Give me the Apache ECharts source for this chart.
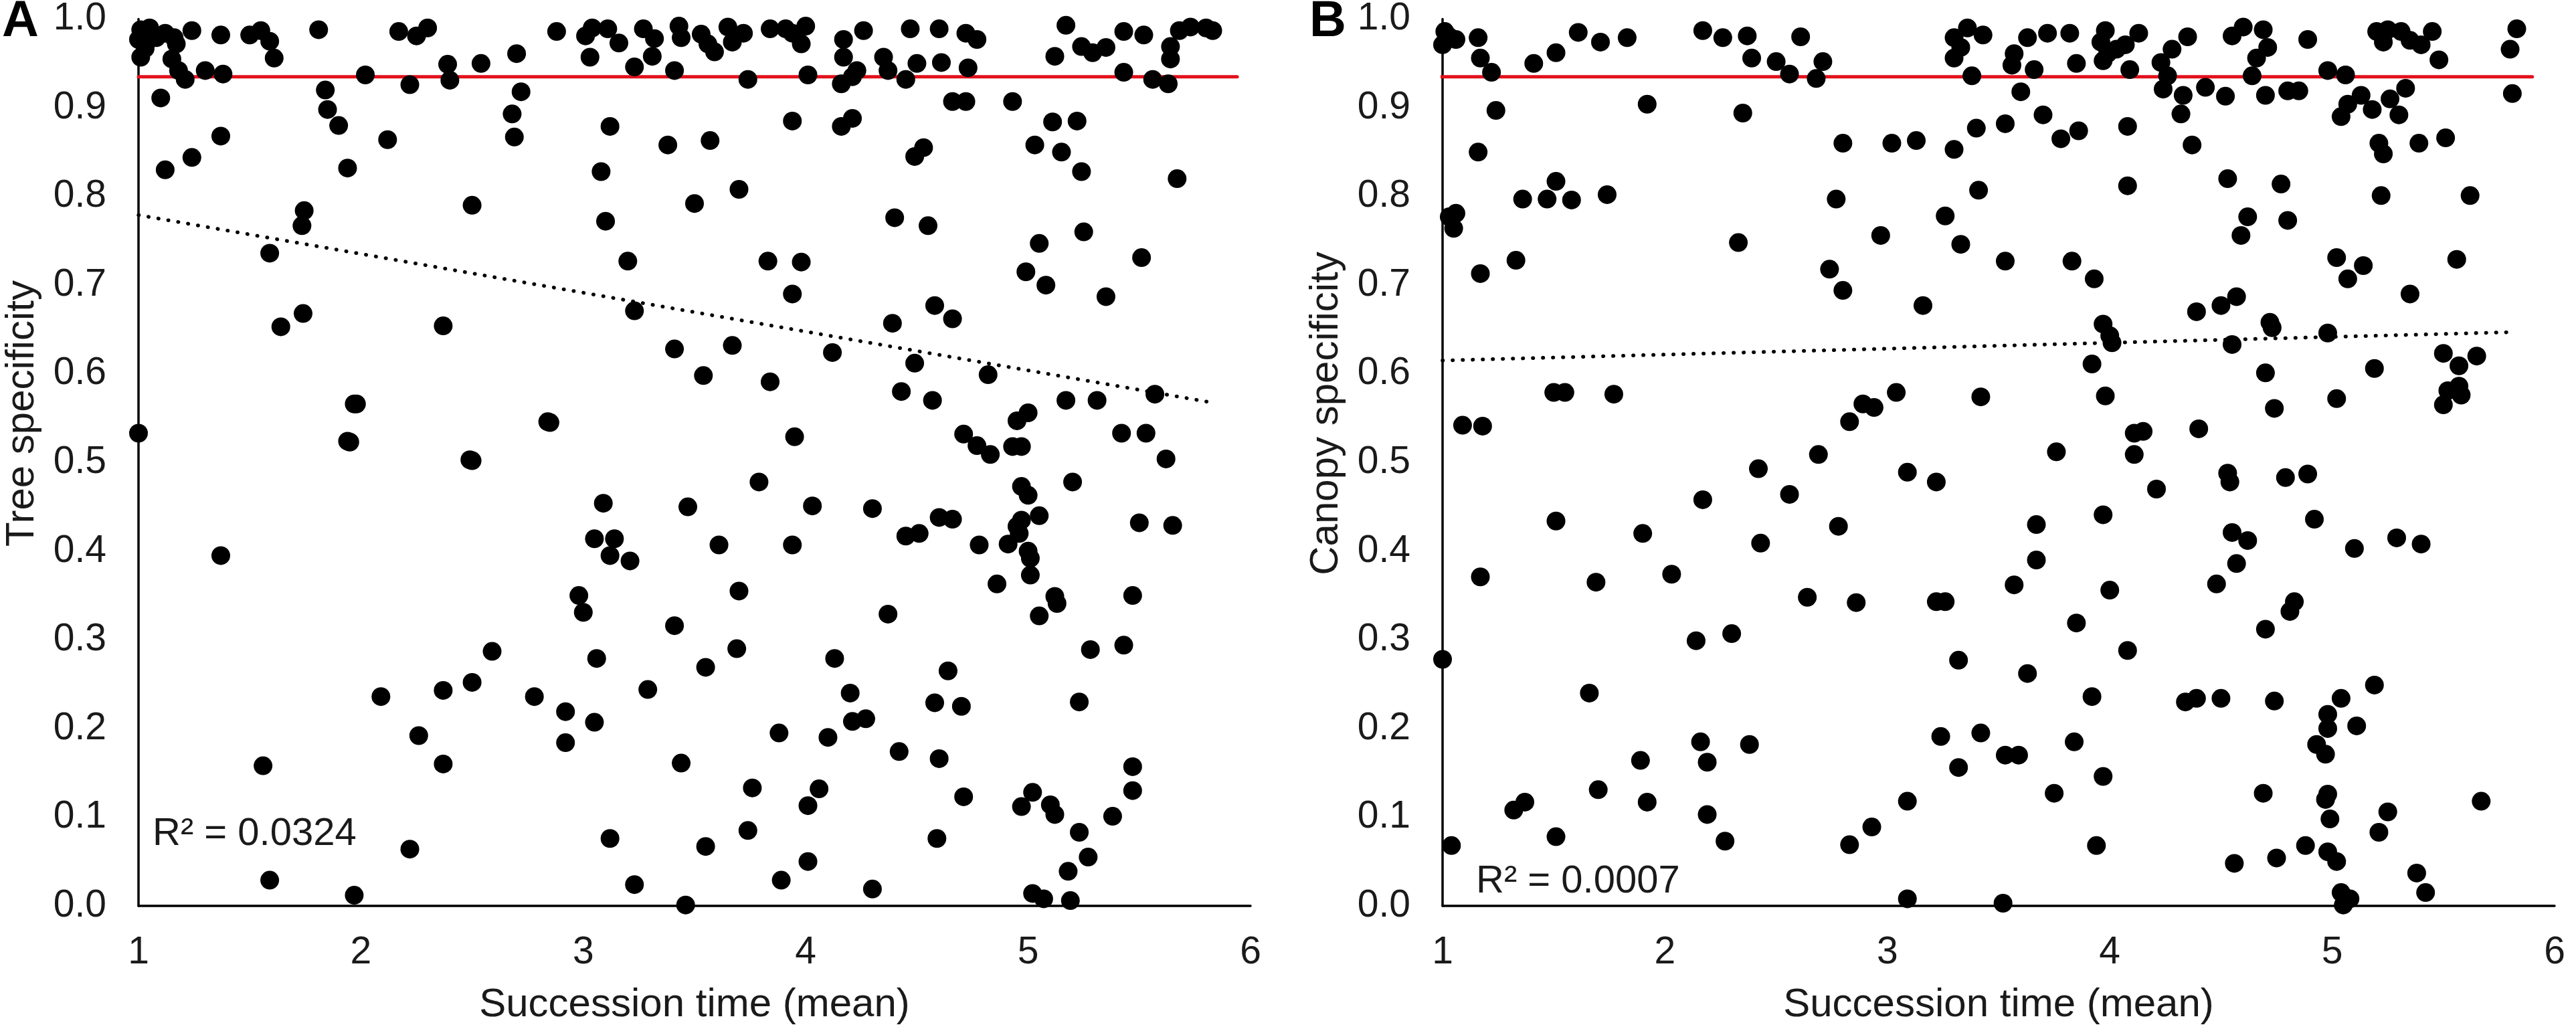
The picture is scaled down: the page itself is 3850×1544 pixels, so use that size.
<!DOCTYPE html>
<html><head><meta charset="utf-8">
<script src="https://cdn.jsdelivr.net/npm/echarts@6/dist/echarts.min.js"></script>
<style>html,body{margin:0;padding:0;background:#fff}#c{width:3850px;height:1544px}</style>
</head><body><div id="c"></div>
<script>
// ---------- DATA ----------
const xTitle = 'Succession time (mean)';
const yTitleA = 'Tree specificity';
const yTitleB = 'Canopy specificity';
const r2TextA = 'R² = 0.0324';
const r2TextB = 'R² = 0.0007';
const panelA = 'A';
const panelB = 'B';

// Panel A: [succession time, tree specificity]
const treePoints = [
[1.00,0.977],[1.01,0.988],[1.01,0.957],[1.03,0.967],[1.04,0.975],[1.05,0.99],[1.08,0.979],[1.10,0.911],[1.12,0.984],[1.16,0.979],[1.17,0.972],[1.15,0.955],[1.18,0.942],[1.21,0.932],[1.24,0.987],[1.30,0.942],[1.37,0.982],[1.38,0.938],[1.50,0.982],[1.55,0.987],[1.59,0.975],[1.61,0.956],[1.81,0.988],
[1.12,0.83],[1.24,0.844],[1.37,0.868],[1.84,0.92],[1.85,0.898],[1.90,0.88],[1.94,0.832],[1.745,0.784],[1.735,0.767],[1.59,0.736],[1.64,0.653],[1.74,0.668],[1.98,0.566],[1.95,0.523],[1.00,0.533],[1.37,0.395],
[2.02,0.937],[2.12,0.864],[2.17,0.986],[2.22,0.926],[2.25,0.981],[2.30,0.99],[2.39,0.949],[2.40,0.931],[2.54,0.95],[2.70,0.961],[2.72,0.918],[2.68,0.893],[2.69,0.867],[2.50,0.79],[2.37,0.654],[2.50,0.502],[2.85,0.545],
[2.88,0.986],[3.01,0.981],[3.04,0.99],[3.03,0.957],[3.11,0.989],[3.16,0.973],[3.23,0.946],[3.27,0.989],[3.32,0.978],[3.31,0.958],[3.41,0.942],[3.12,0.879],[3.08,0.828],[3.10,0.772],[3.20,0.727],[3.23,0.671],[3.38,0.858],
[3.43,0.992],[3.44,0.979],[3.53,0.983],[3.56,0.972],[3.59,0.963],[3.65,0.991],[3.67,0.974],[3.72,0.984],[3.74,0.932],[3.84,0.989],[3.91,0.989],[3.94,0.984],[4.00,0.992],[3.98,0.972],[4.01,0.937],[4.17,0.977],[4.17,0.957],[4.26,0.987],[4.16,0.927],[4.21,0.935],[4.23,0.942],[4.35,0.957],[4.37,0.942],[4.47,0.989],[4.50,0.95],[4.45,0.932],[4.60,0.989],[4.61,0.951],[4.72,0.984],[4.77,0.977],[4.73,0.945],[4.66,0.907],[4.72,0.907],[4.93,0.907],[5.17,0.993],[5.12,0.958],[5.24,0.969],[5.29,0.962],[5.35,0.968],[5.43,0.986],[5.43,0.94],[5.52,0.982],[5.56,0.932],[5.63,0.927],[5.64,0.955],[5.64,0.969],[5.68,0.987],[5.73,0.991],[5.80,0.99],[5.83,0.987],
[3.57,0.863],[3.70,0.808],[3.50,0.792],[3.83,0.727],[3.98,0.726],[3.94,0.885],[4.16,0.879],[4.21,0.888],[3.94,0.69],[4.40,0.776],[4.55,0.767],[4.49,0.845],[4.53,0.855],[4.58,0.677],[4.66,0.662],[4.39,0.657],[5.05,0.747],[4.99,0.715],[5.08,0.70],[5.25,0.76],[5.35,0.687],[5.51,0.731],[5.67,0.82],[5.03,0.858],[5.15,0.85],[5.24,0.828],[5.11,0.884],[5.22,0.885],
[3.41,0.628],[3.67,0.632],[4.12,0.624],[4.49,0.612],[4.82,0.599],[5.57,0.577],[3.54,0.598],[3.84,0.591],[4.43,0.58],[4.57,0.57],[5.17,0.57],[5.31,0.57],[5.00,0.556],[4.95,0.547],[1.97,0.566],[2.84,0.546],[1.94,0.524],[2.49,0.503],[3.95,0.529],[4.71,0.532],[4.77,0.519],[4.83,0.509],[4.93,0.518],[4.97,0.518],[5.42,0.533],[5.53,0.533],[5.62,0.504],
[3.79,0.478],[5.20,0.478],[4.97,0.473],[5.00,0.463],[3.09,0.454],[3.47,0.45],[4.03,0.451],[4.30,0.448],[4.60,0.438],[4.66,0.436],[5.05,0.44],[4.97,0.435],[4.95,0.428],[5.50,0.432],[5.65,0.429],[4.45,0.417],[4.51,0.42],[4.96,0.42],[3.05,0.414],[3.14,0.414],[3.61,0.407],[3.94,0.407],[4.78,0.407],[4.91,0.408],[3.12,0.395],[3.21,0.389],[5.00,0.40],[5.01,0.392],[5.01,0.373],[4.86,0.363],[2.98,0.35],[3.00,0.331],[3.70,0.355],[5.12,0.349],[5.13,0.341],[5.47,0.35],[4.37,0.329],[5.05,0.327],[3.41,0.316],
[2.59,0.287],[3.06,0.279],[3.55,0.269],[3.69,0.29],[4.13,0.279],[4.64,0.265],[5.28,0.289],[5.43,0.294],[2.50,0.252],[3.29,0.244],[2.09,0.236],[2.37,0.243],[2.78,0.236],[4.20,0.24],[4.58,0.229],[4.70,0.225],[5.23,0.23],[2.92,0.219],[3.05,0.207],[4.27,0.211],[4.21,0.208],[2.26,0.192],[2.92,0.184],[3.88,0.195],[4.10,0.19],[4.42,0.174],[4.60,0.166],[1.56,0.158],[2.37,0.16],[3.44,0.161],[5.47,0.157],[3.76,0.133],[4.06,0.132],[4.71,0.123],[5.02,0.128],[5.47,0.13],[4.01,0.113],[4.97,0.112],[5.10,0.114],[5.12,0.103],[5.38,0.101],[3.74,0.085],[5.23,0.083],[3.12,0.076],[4.59,0.076],[2.22,0.064],[3.55,0.067],[5.27,0.055],[4.01,0.05],[5.18,0.039],[1.59,0.029],[3.89,0.029],[3.23,0.024],[4.30,0.019],[1.97,0.012],[5.02,0.014],[5.07,0.008],[5.19,0.006],[3.46,0.001]
];

// Panel B: [succession time, canopy specificity]
const canopyPoints = [
[1.00,0.971],[1.01,0.986],[1.03,0.98],[1.06,0.977],[1.16,0.979],[1.17,0.956],[1.22,0.94],[1.24,0.897],[1.16,0.85],[1.41,0.95],[1.51,0.962],[1.61,0.985],[1.71,0.974],[1.83,0.979],[1.92,0.904],[2.17,0.987],[2.26,0.979],[2.37,0.981],[2.39,0.956],[2.50,0.952],[2.56,0.938],[2.61,0.98],[2.68,0.933],[2.71,0.952],[2.35,0.894],
[1.03,0.777],[1.05,0.764],[1.06,0.781],[1.17,0.713],[1.33,0.728],[1.36,0.797],[1.47,0.797],[1.51,0.817],[1.58,0.796],[1.74,0.802],[2.33,0.748],[2.77,0.797],[2.80,0.86],[2.74,0.718],[2.80,0.694],[3.02,0.86],[3.13,0.863],[3.30,0.853],[2.97,0.756],[3.16,0.677],[3.26,0.778],[3.33,0.746],[3.41,0.807],[3.53,0.727],[3.83,0.727],[3.93,0.707],[3.40,0.877],[3.53,0.882],[3.70,0.892],[3.78,0.865],[3.86,0.874],[4.08,0.879],[4.08,0.812],[4.37,0.858],[4.32,0.893],[4.53,0.82],[4.77,0.814],[4.62,0.777],[4.80,0.773],[4.59,0.756],[5.22,0.801],[5.62,0.801],[5.21,0.86],[5.23,0.848],[5.39,0.86],[5.51,0.866],[5.02,0.731],[5.14,0.722],[5.07,0.707],[5.56,0.729],[5.35,0.69],[4.39,0.67],[4.50,0.677],[4.57,0.687],[4.72,0.658],[3.97,0.656],
[3.30,0.979],[3.33,0.968],[3.30,0.956],[3.36,0.99],[3.43,0.982],[3.38,0.936],[3.57,0.961],[3.56,0.948],[3.63,0.979],[3.60,0.918],[3.66,0.943],[3.72,0.984],[3.82,0.984],[3.85,0.95],[3.98,0.987],[3.96,0.974],[3.99,0.961],[4.03,0.966],[4.07,0.971],[3.97,0.953],[4.13,0.984],[4.09,0.943],[4.23,0.951],[4.28,0.966],[4.35,0.98],[4.24,0.921],[4.26,0.936],[4.33,0.914],[4.43,0.923],[4.52,0.913],[4.55,0.981],[4.60,0.991],[4.69,0.988],[4.71,0.968],[4.66,0.956],[4.64,0.936],[4.70,0.914],[4.80,0.919],[4.85,0.919],[4.89,0.977],[4.98,0.942],[5.06,0.937],[5.13,0.914],[5.07,0.904],[5.04,0.89],[5.18,0.898],[5.26,0.91],[5.33,0.922],[5.30,0.892],[5.20,0.986],[5.25,0.988],[5.23,0.974],[5.31,0.986],[5.35,0.976],[5.40,0.971],[5.45,0.986],[5.48,0.954],[5.83,0.989],[5.80,0.966],[5.81,0.916],
[4.00,0.643],[4.01,0.635],[4.73,0.652],[4.98,0.646],[4.55,0.633],[3.92,0.611],[5.50,0.623],[5.65,0.62],[5.57,0.609],[4.70,0.601],[5.19,0.606],[1.50,0.579],[1.55,0.579],[1.77,0.577],[3.04,0.579],[3.42,0.574],[3.98,0.575],[2.89,0.566],[2.94,0.562],[2.83,0.546],[5.02,0.572],[4.74,0.561],[5.52,0.581],[5.57,0.586],[5.58,0.576],[5.50,0.565],[1.09,0.542],[1.18,0.541],[4.40,0.538],[4.11,0.533],[4.15,0.535],[4.11,0.509],[3.76,0.512],[2.69,0.509],[2.42,0.493],[3.09,0.489],[3.22,0.478],[4.53,0.488],[4.54,0.478],[4.79,0.483],[4.89,0.487],[4.21,0.47],[2.56,0.464],[2.17,0.458],[3.97,0.441],[4.92,0.436],[1.51,0.434],[2.78,0.428],[3.67,0.43],[1.90,0.42],[4.55,0.421],[4.62,0.412],[5.29,0.415],[5.40,0.408],[5.10,0.403],[2.43,0.409],[3.67,0.39],[4.57,0.386],[1.17,0.371],[2.03,0.374],[1.69,0.365],[3.57,0.362],[4.48,0.363],[4.00,0.356],[2.64,0.348],[2.86,0.342],[3.22,0.343],[3.26,0.343],[4.83,0.343],[4.81,0.332],[3.85,0.319],[4.70,0.312],
[2.14,0.299],[2.30,0.307],[1.00,0.278],[3.32,0.277],[4.08,0.288],[3.63,0.262],[1.66,0.24],[3.92,0.236],[4.34,0.23],[4.39,0.234],[4.50,0.234],[4.74,0.231],[5.04,0.234],[5.19,0.249],[4.98,0.216],[5.11,0.203],[4.98,0.2],[3.24,0.191],[3.42,0.195],[2.16,0.185],[2.38,0.182],[3.84,0.185],[4.93,0.182],[4.97,0.171],[1.89,0.164],[2.19,0.162],[3.53,0.17],[3.59,0.17],[3.32,0.156],[3.97,0.146],[1.70,0.131],[3.75,0.127],[4.69,0.127],[4.98,0.126],[4.97,0.12],[1.37,0.117],[1.32,0.108],[1.92,0.117],[3.09,0.118],[5.67,0.118],[2.19,0.103],[4.99,0.098],[5.25,0.106],[2.93,0.089],[5.21,0.083],[1.51,0.078],[1.04,0.068],[2.27,0.073],[2.83,0.069],[3.94,0.068],[4.88,0.068],[4.98,0.061],[5.02,0.05],[4.75,0.054],[4.56,0.048],[5.38,0.037],[5.42,0.015],[5.04,0.015],[5.08,0.008],[5.05,0.001],[3.09,0.008],[3.52,0.003]
];

// Linear trend lines (end points)
const treeTrend = [[1.0,0.779],[5.84,0.567]];
const canopyTrend = [[1.0,0.615],[5.81,0.647]];
// Red threshold lines
const thresholdA = [[1.0,0.935],[5.94,0.935]];
const thresholdB = [[0.97,0.935],[5.90,0.935]];

// ---------- CHART ----------
const FONT = "'Liberation Sans', Arial, sans-serif";
const TXT = '#1a1a1a';
const chart = echarts.init(document.getElementById('c'), null, {renderer:'canvas'});

function xAxisCfg(idx){
  return {
    gridIndex: idx, type:'value', min:1, max:6, interval:1,
    name: xTitle, nameLocation:'middle', nameGap:118,
    nameTextStyle:{fontSize:60, color:TXT, fontFamily:FONT},
    axisLine:{show:true, onZero:false, lineStyle:{color:'#000', width:3.5}},
    axisTick:{show:false}, splitLine:{show:false},
    axisLabel:{fontSize:57, color:TXT, fontFamily:FONT, margin:42}
  };
}
function yAxisCfg(idx){
  return {
    gridIndex: idx, type:'value', min:0, max:1, interval:0.1,
    axisLine:{show:true, onZero:false, lineStyle:{color:'#000', width:3.5}},
    axisTick:{show:false}, splitLine:{show:false},
    axisLabel:{fontSize:57, color:TXT, fontFamily:FONT, margin:48,
      formatter: v => v.toFixed(1)}
  };
}
function lineSeries(idx, data, color, width, type, z){
  return {type:'line', xAxisIndex:idx, yAxisIndex:idx, data:data,
    showSymbol:false, symbol:'none', silent:true, z:z, animation:false,
    lineStyle:{color:color, width:width, type:type, cap:'round'}};
}
function scatterSeries(idx, data){
  return {type:'scatter', xAxisIndex:idx, yAxisIndex:idx, data:data,
    symbol:'circle', symbolSize:28, z:5, animation:false,
    itemStyle:{color:'#000', opacity:1}};
}

chart.setOption({
  backgroundColor:'#fff',
  animation:false,
  grid:[
    {left:207, top:24, width:1662, height:1330},
    {left:2156, top:24, width:1662, height:1330}
  ],
  xAxis:[xAxisCfg(0), xAxisCfg(1)],
  yAxis:[yAxisCfg(0), yAxisCfg(1)],
  series:[
    lineSeries(0, thresholdA, '#e3101b', 5, 'solid', 3),
    lineSeries(0, treeTrend, '#000', 5.5, [0.5, 14.5], 3),
    scatterSeries(0, treePoints),
    lineSeries(1, thresholdB, '#e3101b', 5, 'solid', 3),
    lineSeries(1, canopyTrend, '#000', 5.5, [0.5, 14.5], 3),
    scatterSeries(1, canopyPoints)
  ],
  graphic:[
    {type:'text', x:3, y:33, style:{text:panelA, font:'bold 76px '+FONT, fill:'#000', align:'left', verticalAlign:'middle'}},
    {type:'text', x:1957, y:33, style:{text:panelB, font:'bold 76px '+FONT, fill:'#000', align:'left', verticalAlign:'middle'}},
    {type:'text', x:33, y:618, rotation:Math.PI/2, style:{text:yTitleA, font:'60px '+FONT, fill:TXT, align:'center', verticalAlign:'middle'}},
    {type:'text', x:1982, y:618, rotation:Math.PI/2, style:{text:yTitleB, font:'60px '+FONT, fill:TXT, align:'center', verticalAlign:'middle'}},
    {type:'text', x:228, y:1247, z:10, style:{text:r2TextA, font:'58px '+FONT, fill:TXT, align:'left', verticalAlign:'middle'}},
    {type:'text', x:2206, y:1318, z:10, style:{text:r2TextB, font:'58px '+FONT, fill:TXT, align:'left', verticalAlign:'middle'}}
  ]
});
</script></body></html>
